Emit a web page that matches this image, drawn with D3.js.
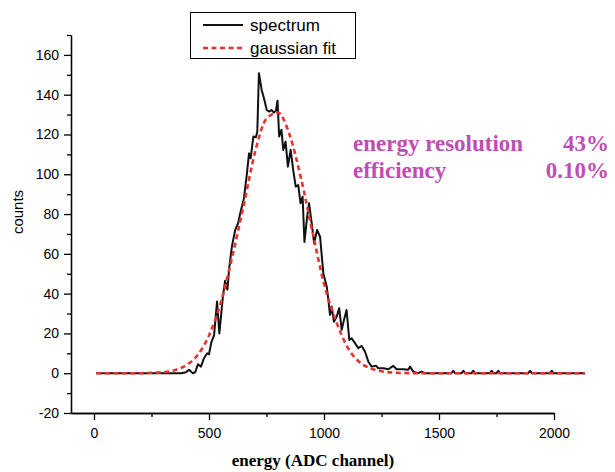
<!DOCTYPE html>
<html>
<head>
<meta charset="utf-8">
<script src="https://cdn.jsdelivr.net/npm/d3@7"></script>
<style>
  body { margin: 0; background: #fff; }
  .tick text { font-family: "Liberation Sans", Arial, sans-serif; }
</style>
</head>
<body>
<div id="vis-holder"></div>
<script>
// Spectrum (channel, counts)
const specChannel = [10, 380, 400, 413, 430, 440, 452, 465, 478, 492, 500, 510, 522, 535, 545, 560, 570, 580, 588,
  600, 614, 627, 635, 652, 665, 674, 681, 693, 704, 710, 717, 729, 739, 751, 762, 772, 782, 791, 798,
  805, 815, 823, 833, 843, 855, 866, 877, 888, 898, 907, 915, 926, 935, 947, 957, 970, 983, 997,
  1012, 1019, 1026, 1033, 1043, 1055, 1066, 1077, 1087, 1098, 1110, 1120, 1135, 1149, 1164, 1178, 1193,
  1207, 1226, 1236, 1258, 1280, 1301, 1316, 1344, 1366, 1374, 1388, 1410, 1424, 1440,
  1554, 1562, 1570, 1598, 1606, 1614, 1641, 1649, 1657, 1721, 1729, 1737, 1750, 1758, 1766,
  1888, 1896, 1904, 1982, 1990, 1998, 2135];
const specCounts = [0, 0, 0.5, 1.7, 0, 0.5, 4.5, 3.3, 7.5, 10, 9.5, 15.5, 19, 36, 20, 38, 46.5, 42, 53,
  64, 72, 75.5, 80, 88, 100.5, 110.5, 108, 119, 118.6, 121.4, 150.8, 142.4, 138.2, 132.3, 131.5, 132.3, 131, 132, 137,
  119, 122.3, 112.2, 116.4, 103.8, 112.2, 102.2, 93.8, 94.6, 85.4, 88.7, 66, 78, 85.4, 75, 65.3, 72, 68.6, 50.3,
  43.5, 36.8, 29.3, 33.5, 25.9, 28.4, 32.7, 21.8, 26.8, 31.8, 16.7, 17.6, 15.1, 12.6, 13.7, 10.9, 5.8,
  3.3, 3.8, 2.5, 2.5, 2, 3.7, 2, 2, 1.7, 3.3, 0.8, 0, 0.8, 0,
  0, 1.2, 0, 0, 1.2, 0, 0, 1.2, 0, 0, 1.2, 0, 0, 1.2, 0,
  0, 1.2, 0, 0, 1.2, 0, 0];

// Gaussian fit curve
const fitChannel = [10, 100, 200, 250, 300, 350, 400, 450, 500, 550, 600, 650, 700, 750, 800, 850, 900, 950,
  1000, 1050, 1100, 1150, 1200, 1250, 1300, 1400, 1600, 1800, 2000, 2135];
const fitCounts = [0, 0, 0, 0.2, 0.5, 1.5, 4, 9, 19, 35, 58, 84, 111, 128, 131, 120, 98, 71,
  45, 27, 13.5, 6, 2.5, 1, 0.3, 0, 0, 0, 0, 0];

const yTicks = [-20, 0, 20, 40, 60, 80, 100, 120, 140, 160];
const yMinor = [-10, 10, 30, 50, 70, 90, 110, 130, 150, 170];
const xTicks = [0, 500, 1000, 1500, 2000];
const xMinor = [250, 750, 1250, 1750];

const legendItems = ["spectrum", "gaussian fit"];
const notes = [["energy resolution", "43%"], ["efficiency", "0.10%"]];

const width = 615;
const height = 472;
const margin = { top: 35, right: 61, bottom: 59, left: 71 };

const svg = d3.select("#vis-holder")
  .append("svg")
  .attr("width", width)
  .attr("height", height);

const x = d3.scaleLinear()
  .domain([-100, 2000])
  .range([margin.left, width - margin.right]);

const y = d3.scaleLinear()
  .domain([-20, 170])
  .range([height - margin.bottom, margin.top]);

// plain labels, hyphen minus like the original
const plain = (d) => String(d);

// y axis, major + minor ticks
svg.append("g")
  .attr("transform", `translate(${margin.left},0)`)
  .call(d3.axisLeft(y).tickValues(yMinor).tickSize(4).tickSizeOuter(0).tickFormat(""))
  .call((g) => g.selectAll("line, path").attr("stroke-width", 1.3));
svg.append("g")
  .attr("transform", `translate(${margin.left},0)`)
  .call(d3.axisLeft(y).tickValues(yTicks).tickSize(7).tickSizeOuter(0).tickPadding(5).tickFormat(plain))
  .attr("font-size", "14px")
  .call((g) => g.selectAll("line, path").attr("stroke-width", 1.3))
  .call((g) => g.selectAll("text").attr("fill", "#000"));

// x axis
svg.append("g")
  .attr("transform", `translate(0,${height - margin.bottom})`)
  .call(d3.axisBottom(x).tickValues(xMinor).tickSize(4).tickSizeOuter(0).tickFormat(""))
  .call((g) => g.selectAll("line, path").attr("stroke-width", 1.3));
svg.append("g")
  .attr("transform", `translate(0,${height - margin.bottom})`)
  .call(d3.axisBottom(x).tickValues(xTicks).tickSize(7).tickSizeOuter(0).tickPadding(8).tickFormat(plain))
  .attr("font-size", "14px")
  .call((g) => g.selectAll("line, path").attr("stroke-width", 1.3))
  .call((g) => g.selectAll("text").attr("fill", "#000"));

// axis titles
svg.append("text")
  .attr("x", 313)
  .attr("y", 466)
  .attr("text-anchor", "middle")
  .attr("font-family", "'Liberation Serif', 'Times New Roman', serif")
  .attr("font-weight", "bold")
  .attr("font-size", "17px")
  .text("energy (ADC channel)");

svg.append("text")
  .attr("transform", "translate(23,212) rotate(-90)")
  .attr("text-anchor", "middle")
  .attr("font-family", "'Liberation Sans', Arial, sans-serif")
  .attr("font-size", "15px")
  .text("counts");

// lines
const specLine = d3.line()
  .x((d, i) => x(specChannel[i]))
  .y((d) => y(d));

const fitLine = d3.line()
  .x((d, i) => x(fitChannel[i]))
  .y((d) => y(d))
  .curve(d3.curveMonotoneX);

svg.append("path")
  .datum(specCounts)
  .attr("fill", "none")
  .attr("stroke", "#111")
  .attr("stroke-width", 2)
  .attr("stroke-linejoin", "round")
  .attr("d", specLine);

svg.append("path")
  .datum(fitCounts)
  .attr("fill", "none")
  .attr("stroke", "#e8332d")
  .attr("stroke-width", 2.6)
  .attr("stroke-dasharray", "5,3.5")
  .attr("d", fitLine);

// legend
const legend = svg.append("g");
legend.append("rect")
  .attr("x", 190.5)
  .attr("y", 12.5)
  .attr("width", 165)
  .attr("height", 46)
  .attr("fill", "#fff")
  .attr("stroke", "#000")
  .attr("stroke-width", 1);

legendItems.forEach((name, i) => {
  const ly = 25 + i * 23;
  legend.append("line")
    .attr("x1", 203).attr("x2", 243)
    .attr("y1", ly).attr("y2", ly)
    .attr("stroke", i === 0 ? "#111" : "#e8332d")
    .attr("stroke-width", i === 0 ? 2 : 2.6)
    .attr("stroke-dasharray", i === 0 ? null : "5,3.5");
  legend.append("text")
    .attr("x", 250)
    .attr("y", ly + 6)
    .attr("font-family", "'Liberation Sans', Arial, sans-serif")
    .attr("font-size", "17px")
    .text(name);
});

// annotation
notes.forEach((n, i) => {
  const ny = 151 + i * 27;
  svg.append("text")
    .attr("x", 353)
    .attr("y", ny)
    .attr("fill", "#c04db4")
    .attr("font-family", "'Liberation Serif', 'Times New Roman', serif")
    .attr("font-weight", "bold")
    .attr("font-size", "23px")
    .text(n[0]);
  svg.append("text")
    .attr("x", 609)
    .attr("y", ny)
    .attr("text-anchor", "end")
    .attr("fill", "#c04db4")
    .attr("font-family", "'Liberation Serif', 'Times New Roman', serif")
    .attr("font-weight", "bold")
    .attr("font-size", "23px")
    .text(n[1]);
});
</script>
</body>
</html>
